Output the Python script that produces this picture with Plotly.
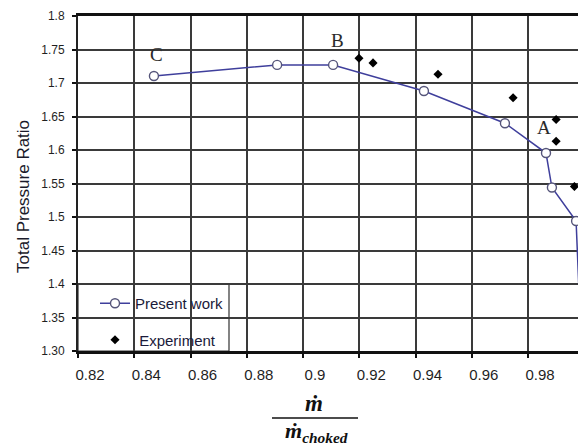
import plotly.graph_objects as go

# Mass-flow ratio (m_dot / m_dot_choked) and total pressure ratio
present_x = [0.8470, 0.8908, 0.9107, 0.9430, 0.9718, 0.9864, 0.9885, 0.9971, 0.9995]
present_y = [1.7105, 1.727, 1.727, 1.688, 1.640, 1.5955, 1.544, 1.494, 1.25]

exp_x = [0.9199, 0.9249, 0.9480, 0.9747, 0.9900, 0.9900, 0.9965]
exp_y = [1.737, 1.730, 1.713, 1.678, 1.6455, 1.613, 1.5455]

# Operating points marked on the computed curve
point_labels = ["C", "B", "A"]
point_index = [0, 2, 5]
point_offsets = [(3, 21), (4, 24), (-2, 26)]

x_ticks = [0.82, 0.84, 0.86, 0.88, 0.90, 0.92, 0.94, 0.96, 0.98]
x_ticktext = ["0.82", "0.84", "0.86", "0.88", "0.9", "0.92", "0.94", "0.96", "0.98"]
y_ticks = [1.30, 1.35, 1.40, 1.45, 1.50, 1.55, 1.60, 1.65, 1.70, 1.75, 1.80]
y_ticktext = ["1.30", "1.35", "1.4", "1.45", "1.5", "1.55", "1.6", "1.65", "1.7", "1.75", "1.8"]

W, H = 578, 445
ML, MR, MT, MB = 78, 0, 16, 94
plot_w = W - ML - MR
plot_h = H - MT - MB
px_per_unit = 2812.5


def py(pix):
    return (H - MB - pix) / plot_h


def pxp(pix):
    return (pix - ML) / plot_w


fig = go.Figure()

fig.add_trace(go.Scatter(
    x=present_x, y=present_y, mode="lines+markers", name="Present work",
    legendgroup="pw",
    line=dict(color="#3f3f9c", width=1.5),
    marker=dict(symbol="circle", size=9, color="white",
                line=dict(color="#55557a", width=1.4)),
))
fig.add_trace(go.Scatter(
    x=exp_x, y=exp_y, mode="markers", name=" Experiment",
    legendgroup="exp",
    marker=dict(symbol="diamond", size=7, color="black"),
))

for lab, idx, (dx, dy) in zip(point_labels, point_index, point_offsets):
    fig.add_annotation(
        x=present_x[idx], y=present_y[idx], text=lab, showarrow=False,
        xshift=dx, yshift=dy,
        font=dict(family="Liberation Serif, Times New Roman, serif", size=19, color="#2a2a2a"),
    )

# Y-axis title
fig.add_annotation(
    xref="paper", yref="paper", x=pxp(23), y=py(197),
    text="Total Pressure Ratio", textangle=-90, showarrow=False,
    xanchor="center", yanchor="middle",
    font=dict(family="Liberation Sans, Arial, sans-serif", size=17, color="#1a1a2a"),
)

# X-axis title as a fraction
serif_bi = "Liberation Serif, DejaVu Serif, serif"
fig.add_annotation(
    xref="paper", yref="paper", x=pxp(314), y=py(403), showarrow=False,
    text="<b><i>ṁ</i></b>", xanchor="center", yanchor="middle",
    font=dict(family=serif_bi, size=23, color="#111"),
)
fig.add_annotation(
    xref="paper", yref="paper", x=pxp(316), y=py(432), showarrow=False,
    text="<b><i>ṁ<sub>choked</sub></i></b>", xanchor="center", yanchor="middle",
    font=dict(family=serif_bi, size=22, color="#111"),
)
fig.add_shape(
    type="line", xref="paper", yref="paper",
    x0=pxp(272), x1=pxp(358), y0=py(418), y1=py(418),
    line=dict(color="#111", width=1.5),
)

# Legend frame
fig.add_shape(
    type="rect", xref="paper", yref="paper",
    x0=0, x1=pxp(229), y0=0, y1=py(284),
    fillcolor="white", line=dict(color="#333", width=1.2), layer="between",
)

axis_font = dict(family="Liberation Sans, Arial, sans-serif", color="#1f1f1f")

fig.update_layout(
    width=W, height=H,
    margin=dict(l=ML, r=MR, t=MT, b=MB, pad=0),
    paper_bgcolor="white", plot_bgcolor="white",
    showlegend=True,
    legend=dict(
        x=pxp(95), y=py(287), xanchor="left", yanchor="top",
        bgcolor="rgba(0,0,0,0)", borderwidth=0,
        font=dict(family="Liberation Sans, Arial, sans-serif", size=15, color="#1a1a3a"),
        tracegroupgap=14,
    ),
    xaxis=dict(
        range=[0.82, 0.82 + plot_w / px_per_unit],
        tickvals=x_ticks, ticktext=x_ticktext,
        showgrid=True, gridcolor="#3a3a3a", gridwidth=1.6,
        showline=True, linecolor="#111", linewidth=2.5, mirror=True,
        ticks="outside", ticklen=4, tickcolor="#111", tickwidth=1.5,
        tickfont=dict(size=15, **axis_font),
        ticklabelshift=12, ticklabelstandoff=4,
        zeroline=False,
    ),
    yaxis=dict(
        range=[1.30, 1.80],
        tickvals=y_ticks, ticktext=y_ticktext,
        showgrid=True, gridcolor="#3a3a3a", gridwidth=1.6,
        showline=True, linecolor="#222", linewidth=2,
        ticks="outside", ticklen=4, tickcolor="#111", tickwidth=1.5,
        tickfont=dict(size=12, **axis_font),
        ticklabelstandoff=5,
        zeroline=False,
    ),
)

fig.write_html("out.html")
